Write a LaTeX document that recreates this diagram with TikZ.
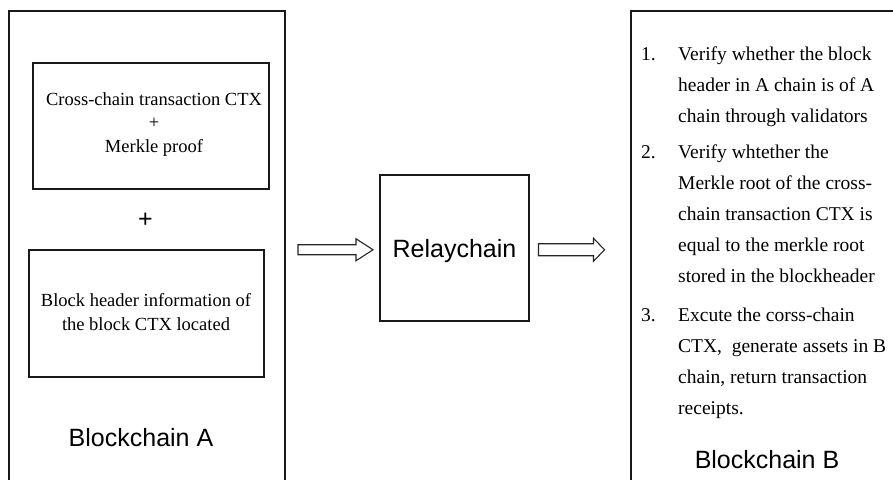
\documentclass[tikz,border=0pt]{standalone}
\usepackage{fontspec}
\setmainfont{Liberation Serif}
\setsansfont{Liberation Sans}
\usetikzlibrary{calc}
\begin{document}
\begin{tikzpicture}[x=1pt,y=-1pt,
  box/.style={draw=black!90,line width=1.5pt,rectangle,inner sep=0pt},
  hollow/.style={draw=black!85,line width=1.1pt,fill=white,line join=miter},
  small/.style={font=\fontsize{18.5}{23.5}\selectfont,align=center,inner sep=0pt},
  steps/.style={font=\fontsize{19.5}{31}\selectfont,align=left,inner sep=0pt,anchor=base west},
  num/.style={font=\fontsize{19.5}{31}\selectfont,inner sep=0pt,anchor=base west},
  big/.style={font=\sffamily\fontsize{25}{30}\selectfont,inner sep=0pt,anchor=base}]
\useasboundingbox (0,0) rectangle (893,479);
\clip (0,0) rectangle (893,479);

% Blockchain A (multi-line texts are placed by the baseline of their last line)
\node[box,minimum width=276pt,minimum height=495pt,anchor=north west] (chainA) at (8,10) {};
\node[box,minimum width=236pt,minimum height=126pt,anchor=north west] (ctxbox) at (32,62) {};
\node[box,minimum width=235pt,minimum height=127pt,anchor=north west] (hdrbox) at (28,249) {};
\node[small,anchor=base] (ctxtext) at (154,152) {Cross-chain transaction CTX\\+\\Merkle proof};
\node[big] (plus) at (145.5,227) {+};
\node[small,anchor=base] (hdrtext) at (146,330) {Block header information of\\the block CTX located};
\node[big] (labelA) at (141,446) {Blockchain A};

% Relay chain
\node[box,minimum width=149pt,minimum height=146pt,anchor=north west] (relay) at (379,174) {};
\node[big] (relaytext) at (454.5,257) {Relaychain};

% Blockchain B
\node[box,minimum width=300pt,minimum height=495pt,anchor=north west] (chainB) at (630,10) {};
\node[num] (n1) at (641,60) {1.};
\node[steps] (s1) at (678,122) {Verify whether the block\\header in A chain is of A\\chain through validators};
\node[num] (n2) at (641,158) {2.};
\node[steps] (s2) at (678,282) {Verify whtether the\\Merkle root of the cross-\\chain transaction CTX is\\equal to the merkle root\\stored in the blockheader};
\node[num] (n3) at (641,321) {3.};
\node[steps] (s3) at (678,414) {Excute the corss-chain\\CTX,\ \ generate assets in B\\chain, return transaction\\receipts.};
\node[big] (labelB) at (767,468) {Blockchain B};

% Hollow arrows between the chains (tips named from the relay box)
\coordinate (a1) at ([xshift=-6pt,yshift=-2pt]relay.west);
\coordinate (a2) at ([xshift=75pt,yshift=-2pt]relay.east);
\draw[hollow] ($(a1)+(-75,-5)$) -- ($(a1)+(-17,-5)$) -- ($(a1)+(-17,-11)$) -- (a1)
  -- ($(a1)+(-17,11)$) -- ($(a1)+(-17,5)$) -- ($(a1)+(-75,5)$) -- cycle;
\draw[hollow] ($(a2)+(-66,-6)$) -- ($(a2)+(-11,-6)$) -- ($(a2)+(-11,-11.5)$) -- (a2)
  -- ($(a2)+(-11,11.5)$) -- ($(a2)+(-11,6)$) -- ($(a2)+(-66,6)$) -- cycle;
\end{tikzpicture}
\end{document}
